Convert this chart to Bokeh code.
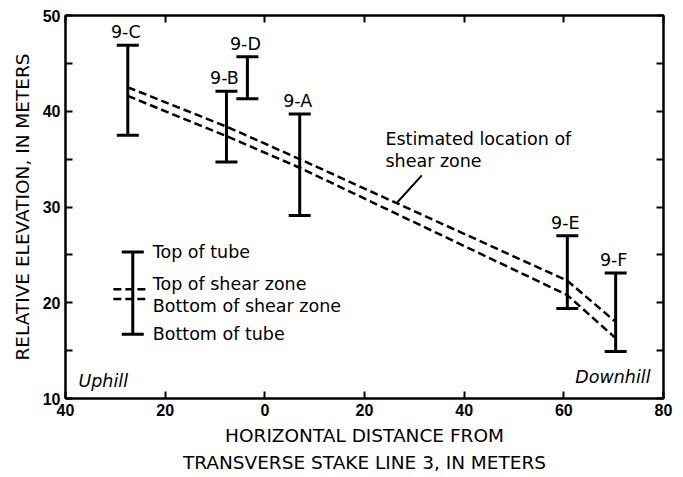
import numpy as np
from bokeh.plotting import figure
from bokeh.models import LinearAxis, FixedTicker, Label, Range1d
from bokeh.core.properties import value
from bokeh.embed import file_html
from bokeh.resources import INLINE

# ---- data ----
tube_names = ["9-C", "9-B", "9-D", "9-A", "9-E", "9-F"]
tube_x = [-27.5, -7.7, -3.5, 7.0, 60.7, 70.4]
tube_top = [46.9, 42.1, 45.7, 39.7, 27.0, 23.1]
tube_bottom = [37.5, 34.7, 41.3, 29.1, 19.4, 14.9]

zone_x = [-27.5, -7.7, 7.0, 60.7, 70.4]
zone_top = [42.5, 38.4, 35.0, 22.3, 18.0]
zone_bottom = [41.6, 37.4, 34.1, 20.8, 16.3]

legend_x = [-26.5]
legend_tube_top = [25.3]
legend_tube_bottom = [16.7]
legend_dash_x = [-30.4, -23.5]
legend_zone_top = [21.4, 21.4]
legend_zone_bottom = [20.4, 20.4]
legend_texts = ["Top of tube", "Top of shear zone", "Bottom of shear zone", "Bottom of tube"]
legend_text_x = [-22.5, -22.5, -22.5, -22.5]
legend_text_y = [25.3, 22.0, 19.7, 16.7]

zone_note = ["Estimated location of", "shear zone"]
zone_note_x = [24.2, 24.2]
zone_note_y = [37.15, 34.85]
leader_x = [31.5, 26.6]
leader_y = [33.3, 30.5]

x_ticks = [-40, -20, 0, 20, 40, 60, 80]
x_tick_labels = ["40", "20", "0", "20", "40", "60", "80"]
y_ticks = [10, 20, 30, 40, 50]
y_minor_ticks = [15, 25, 35, 45]

x_title = "HORIZONTAL DISTANCE FROM\nTRANSVERSE STAKE LINE 3, IN METERS"
y_title = "RELATIVE ELEVATION, IN METERS"

FONT = "DejaVu Sans"
TICKFONT = "Liberation Sans"
FS = "17.5px"
TFS = "18.5px"

p = figure(width=683, height=477, output_backend="svg", toolbar_location=None,
           x_range=Range1d(-40, 80), y_range=Range1d(10, 50),
           min_border_left=65, min_border_right=20, min_border_top=15, min_border_bottom=79)
p.xgrid.visible = False
p.ygrid.visible = False
p.outline_line_color = "black"
p.outline_line_width = 2
p.background_fill_color = "white"
p.border_fill_color = "white"

overrides = {t: l for t, l in zip(x_ticks, x_tick_labels)}


def style_axis(ax, show_labels):
    ax.axis_line_width = 2
    ax.axis_line_color = "black"
    ax.major_tick_in = 7
    ax.major_tick_out = 0
    ax.minor_tick_in = 7
    ax.minor_tick_out = 0
    ax.major_tick_line_width = 2
    ax.minor_tick_line_width = 2
    ax.major_tick_line_color = "black"
    ax.minor_tick_line_color = "black"
    if show_labels:
        ax.major_label_text_font = TICKFONT
        ax.major_label_text_font_style = "bold"
        ax.major_label_text_font_size = "16px"
        ax.major_label_text_color = "black"
        ax.major_label_standoff = 5
    else:
        ax.major_label_text_font_size = "1px"
        ax.major_label_text_color = None
        ax.major_label_standoff = 0


p.xaxis.ticker = FixedTicker(ticks=x_ticks)
p.xaxis.major_label_overrides = overrides
p.yaxis.ticker = FixedTicker(ticks=y_ticks, minor_ticks=y_minor_ticks)
for ax in p.xaxis + p.yaxis:
    style_axis(ax, True)
    ax.axis_label_text_font = FONT
    ax.axis_label_text_font_size = TFS
    ax.axis_label_text_font_style = "normal"
    ax.axis_label_text_color = "black"
p.xaxis.minor_tick_line_color = None
p.xaxis.axis_label = x_title
p.xaxis.axis_label_standoff = 6
p.xaxis.axis_label_text_line_height = 1.3
p.yaxis.axis_label = y_title
p.yaxis.axis_label_standoff = 7

top_ax = LinearAxis(ticker=FixedTicker(ticks=x_ticks))
style_axis(top_ax, False)
top_ax.minor_tick_line_color = None
p.add_layout(top_ax, "above")
right_ax = LinearAxis(ticker=FixedTicker(ticks=y_ticks, minor_ticks=y_minor_ticks))
style_axis(right_ax, False)
p.add_layout(right_ax, "right")

# shear zone dashed lines
p.line(zone_x, zone_top, line_color="black", line_width=2.5, line_dash="8 4")
p.line(zone_x, zone_bottom, line_color="black", line_width=2.5, line_dash="8 4")

# tubes
p.segment(x0=tube_x, y0=tube_bottom, x1=tube_x, y1=tube_top, line_color="black", line_width=3)
p.scatter(x=tube_x + tube_x, y=tube_top + tube_bottom, marker="dash", size=22,
          line_color="black", line_width=3)
p.text(x=tube_x, y=tube_top, text=tube_names, text_font=value(FONT), text_font_size=FS,
       text_align="center", text_baseline="middle", y_offset=-13, x_offset=-2, text_color="black")

# legend
p.segment(x0=legend_x, y0=legend_tube_bottom, x1=legend_x, y1=legend_tube_top,
          line_color="black", line_width=3)
p.scatter(x=legend_x + legend_x, y=legend_tube_top + legend_tube_bottom, marker="dash", size=22,
          line_color="black", line_width=3)
p.line(legend_dash_x, legend_zone_top, line_color="black", line_width=2.5, line_dash="8 4")
p.line(legend_dash_x, legend_zone_bottom, line_color="black", line_width=2.5, line_dash="8 4")
p.text(x=legend_text_x, y=legend_text_y, text=legend_texts, text_font=value(FONT),
       text_font_size=FS, text_align="left", text_baseline="middle", text_color="black")

# note
p.text(x=zone_note_x, y=zone_note_y, text=zone_note, text_font=value(FONT),
       text_font_size=FS, text_align="left", text_baseline="middle", text_color="black")
p.line(leader_x, leader_y, line_color="black", line_width=2)

p.add_layout(Label(x=-37.4, y=11.8, text="Uphill", text_font=FONT, text_font_size=FS,
                   text_font_style="italic", text_align="left", text_baseline="middle",
                   text_color="black"))
p.add_layout(Label(x=77.4, y=12.2, text="Downhill", text_font=FONT, text_font_size=FS,
                   text_font_style="italic", text_align="right", text_baseline="middle",
                   text_color="black"))

open("out.html", "w").write(file_html(p, INLINE))
